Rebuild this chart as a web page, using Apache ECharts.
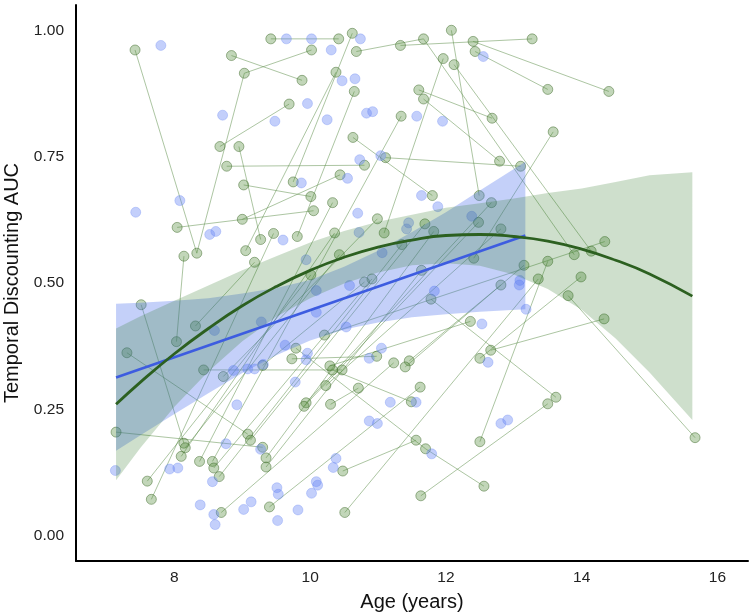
<!DOCTYPE html>
<html><head><meta charset="utf-8">
<script src="https://cdn.jsdelivr.net/npm/echarts@6/dist/echarts.min.js"></script>
<style>html,body{margin:0;padding:0;background:#fff}#c{width:750px;height:615px}</style>
</head><body><div id="c"></div>
<script>
const xTickValues = [8, 10, 12, 14, 16];
const yTickValues = [0, 0.25, 0.5, 0.75, 1];

// single-visit participants (blue)
const blueAge = [7.80,9.65,10.02,9.96,8.71,9.48,10.25,9.87,8.08,10.74,10.31,12.55,10.47,10.66,10.83,10.92,11.57,11.95,11.04,10.73,10.55,11.64,7.43,8.52,8.61,9.60,9.94,10.09,8.59,9.28,10.09,9.63,9.96,9.94,8.87,9.08,9.18,9.31,9.78,10.70,11.88,12.38,11.45,11.42,10.72,11.06,10.58,13.09,13.08,11.83,13.18,10.53,12.53,11.05,10.87,12.62,7.13,7.93,8.05,8.56,8.38,8.58,8.60,8.76,9.27,8.92,9.51,9.53,9.52,9.02,9.13,9.82,10.02,10.09,10.11,11.18,11.56,10.87,10.99,12.81,12.91,11.79,10.38,10.34];
const blueAUC = [0.970,0.983,0.983,0.855,0.832,0.820,0.823,0.698,0.663,0.983,0.961,0.948,0.900,0.904,0.836,0.839,0.830,0.820,0.752,0.744,0.707,0.673,0.640,0.596,0.602,0.585,0.546,0.485,0.406,0.423,0.442,0.377,0.361,0.348,0.327,0.330,0.330,0.339,0.304,0.638,0.651,0.632,0.619,0.607,0.600,0.560,0.495,0.505,0.496,0.484,0.448,0.413,0.419,0.371,0.351,0.343,0.129,0.132,0.134,0.107,0.061,0.042,0.022,0.182,0.171,0.259,0.095,0.082,0.030,0.052,0.067,0.051,0.084,0.107,0.100,0.264,0.264,0.227,0.222,0.222,0.229,0.162,0.153,0.135];

// longitudinal participants (green): subject id, age, AUC
const greenSubject = [1,1,1,1,2,2,3,3,4,4,5,5,6,6,7,7,8,8,8,9,9,10,10,11,11,12,12,13,13,14,14,15,15,16,16,17,17,18,18,19,19,20,20,21,21,22,22,23,23,24,24,25,25,26,26,27,27,28,28,29,29,30,30,31,31,32,32,32,33,33,34,34,35,35,36,36,37,37,38,38,39,39,40,40,41,41,42,42,43,43,44,44,45,45,46,46,47,47,48,48,49,49,50,50,51,51,52,52,53,53,54,54,55,55,56,56,57,57,58,58,59,59,60,60,61,61,62,62,63,63,64,64];
const greenAge = [7.42,8.33,9.03,10.02, 9.42,10.42, 8.84,9.88, 8.67,9.69, 8.95,9.27, 8.77,10.80, 9.02,10.01, 10.68,11.67,13.89, 11.33,13.27, 12.40,14.40, 12.43,13.50, 9.75,10.62, 12.08,12.49, 11.60,12.68, 11.67,12.79, 10.63,11.80, 11.11,13.10, 12.12,14.14, 11.09,11.96, 9.81,10.65, 12.41,13.58, 9.00,10.44, 8.04,10.05, 7.51,8.14, 7.30,9.08, 7.14,9.30, 7.60,10.01, 7.66,9.46, 8.69,11.23, 9.40,11.62, 10.48,11.56, 9.79,11.70,12.56, 11.63,13.50, 10.51,13.36, 12.50,13.50, 11.78,13.62, 13.80,15.67, 10.30,10.71, 10.33,11.49, 8.43,10.47, 8.31,9.18, 8.03,8.14, 8.72,10.99, 9.05,10.38, 8.10,10.36, 8.37,10.33, 8.56,11.34, 8.58,10.91, 8.66,11.35, 8.16,10.43, 9.12,11.69, 9.35,11.82, 9.35,11.64, 9.94,12.67, 9.91,12.48, 10.23,12.81, 9.30,10.80, 9.73,10.98, 10.29,12.36, 11.46,12.81, 11.40,13.15, 12.66,14.33, 12.50,13.99, 10.21,14.34];
const greenAUC = [0.961,0.559,0.915,0.961, 0.983,0.983, 0.950,0.901, 0.770,0.854, 0.770,0.586, 0.731,0.733, 0.694,0.671, 0.958,0.983,0.556, 0.970,0.983, 0.978,0.879, 0.958,0.883, 0.700,0.994, 1.000,0.673, 0.882,0.826, 0.864,0.741, 0.788,0.673, 0.748,0.731, 0.932,0.563, 0.599,0.944, 0.592,0.879, 0.549,0.799, 0.626,0.714, 0.610,0.643, 0.457,0.183, 0.362,0.201, 0.205,0.175, 0.108,0.516, 0.072,0.598, 0.046,0.342, 0.057,0.294, 0.128,0.189, 0.371,0.172,0.098, 0.079,0.261, 0.046,0.508, 0.186,0.543, 0.468,0.274, 0.475,0.194, 0.260,0.292, 0.328,0.265, 0.328,0.328, 0.415,0.541, 0.384,0.553, 0.315,0.627, 0.564,0.917, 0.157,0.599, 0.147,0.659, 0.147,0.830, 0.134,0.508, 0.117,0.576, 0.174,0.556, 0.189,0.617, 0.154,0.602, 0.136,0.525, 0.263,0.659, 0.256,0.620, 0.297,0.607, 0.337,0.502, 0.350,0.355, 0.336,0.424, 0.346,0.496, 0.334,0.535, 0.367,0.429, 0.351,0.512, 0.397,0.582];

// linear fit (blue) and its confidence band
const blueFitAge = [7.14, 13.17];
const blueFitAUC = [0.313, 0.594];
const blueBandAge   = [7.14,7.5,8,8.5,9,9.5,10,10.5,11,11.5,12,12.5,13.17];
const blueBandUpper = [0.459,0.461,0.465,0.470,0.479,0.490,0.506,0.532,0.564,0.601,0.640,0.683,0.740];
const blueBandLower = [0.168,0.199,0.241,0.282,0.322,0.357,0.386,0.408,0.422,0.432,0.438,0.443,0.448];

// quadratic fit (green) and its confidence band
const greenFitAge   = [7.14,7.5,8,8.5,9,9.5,10,10.5,11,11.5,12,12.5,13,13.5,14,14.5,15,15.63];
const greenFitAUC   = [0.260,0.304,0.360,0.410,0.455,0.493,0.525,0.551,0.571,0.585,0.594,0.596,0.592,0.583,0.567,0.545,0.518,0.474];
const greenBandUpper= [0.410,0.434,0.465,0.495,0.525,0.553,0.580,0.603,0.621,0.635,0.649,0.658,0.667,0.678,0.687,0.700,0.713,0.719];
const greenBandLower= [0.110,0.174,0.255,0.325,0.385,0.433,0.470,0.499,0.521,0.535,0.539,0.534,0.517,0.488,0.447,0.390,0.323,0.229];

const FONT = 'Liberation Sans, Arial, sans-serif';
const chart = echarts.init(document.getElementById('c'), null, {renderer: 'canvas'});

function zip(a, b) { return a.map((v, i) => [v, b[i]]); }

function bandSeries(ages, up, lo, color, z) {
  return {
    type: 'custom', silent: true, z: z,
    data: [[ages[0], up[0]]],
    renderItem: function (params, api) {
      const pts = [];
      for (let i = 0; i < ages.length; i++) pts.push(api.coord([ages[i], up[i]]));
      for (let i = ages.length - 1; i >= 0; i--) pts.push(api.coord([ages[i], lo[i]]));
      return { type: 'polygon', shape: { points: pts }, style: { fill: color } };
    }
  };
}

// participant trajectories
const subjects = {};
greenSubject.forEach((s, i) => { (subjects[s] = subjects[s] || []).push([greenAge[i], greenAUC[i]]); });
const trajSeries = Object.keys(subjects).map(k => ({
  type: 'line', silent: true, z: 2, data: subjects[k].sort((a, b) => a[0] - b[0]),
  showSymbol: false, symbol: 'none', animation: false,
  lineStyle: { color: 'rgba(90,140,70,0.5)', width: 1 }
}));

const series = [
  ...trajSeries,
  { type: 'scatter', z: 3, silent: true, symbolSize: 10, data: zip(greenAge, greenAUC),
    itemStyle: { color: 'rgba(85,140,60,0.45)', borderColor: 'rgba(60,105,40,0.6)', borderWidth: 1 } },
  { type: 'scatter', z: 3, silent: true, symbolSize: 10, data: zip(blueAge, blueAUC),
    itemStyle: { color: 'rgba(105,135,245,0.5)', borderColor: 'rgba(95,125,240,0.45)', borderWidth: 0.8 } },
  bandSeries(blueBandAge, blueBandUpper, blueBandLower, 'rgba(70,110,235,0.32)', 4),
  bandSeries(greenFitAge, greenBandUpper, greenBandLower, 'rgba(45,115,35,0.23)', 4),
  { type: 'line', z: 5, silent: true, data: zip(blueFitAge, blueFitAUC), showSymbol: false, symbol: 'none',
    lineStyle: { color: '#3d5ce0', width: 2.6 } },
  { type: 'line', z: 5, silent: true, data: zip(greenFitAge, greenFitAUC), smooth: true, showSymbol: false, symbol: 'none',
    lineStyle: { color: '#2c6020', width: 2.8 } }
];

chart.setOption({
  animation: false,
  backgroundColor: '#ffffff',
  grid: { left: 76, right: 2, top: 5, bottom: 54, containLabel: false, outerBoundsMode: 'none' },
  xAxis: {
    type: 'value', min: 6.55, max: 16.45,
    axisLine: { show: true, onZero: false, lineStyle: { color: '#000', width: 2 } },
    axisTick: { show: false }, splitLine: { show: false },
    axisLabel: { customValues: xTickValues, color: '#222', fontSize: 15.5, margin: 9, fontFamily: FONT },
    name: 'Age (years)', nameLocation: 'middle', nameGap: 31,
    nameTextStyle: { fontSize: 20, color: '#111', fontFamily: FONT }
  },
  yAxis: {
    type: 'value', min: -0.05, max: 1.05,
    axisLine: { show: true, onZero: false, lineStyle: { color: '#000', width: 2 } },
    axisTick: { show: false }, splitLine: { show: false },
    axisLabel: { customValues: yTickValues, formatter: v => v.toFixed(2), color: '#222', fontSize: 15.5, margin: 12, fontFamily: FONT },
    name: 'Temporal Discounting AUC', nameLocation: 'middle', nameGap: 52, nameRotate: 90,
    nameTextStyle: { fontSize: 20, color: '#111', fontFamily: FONT }
  },
  series: series
});
</script></body></html>
